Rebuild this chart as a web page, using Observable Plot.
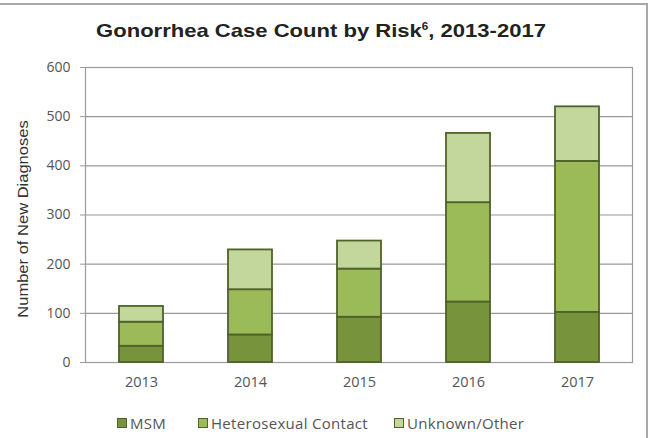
<!DOCTYPE html>
<html>
<head>
<meta charset="utf-8">
<script src="https://cdn.jsdelivr.net/npm/d3@7"></script>
<script src="https://cdn.jsdelivr.net/npm/@observablehq/plot@0.6"></script>
<style>
  body { margin: 0; background: #fff; }
  #wrap { position: relative; width: 655px; height: 438px; overflow: hidden; font-family: "Open Sans", Lato, sans-serif; }
  #frame { position: absolute; left: -4px; top: 3px; width: 650px; height: 450px; border-top: 2px solid #a8a8a8; border-right: 2px solid #a8a8a8; }
  #title { position: absolute; top: 20px; left: 321px; transform: translateX(-50%) scaleX(1.16); white-space: nowrap; font: bold 19px "Liberation Sans", Arial, sans-serif; color: #222; }
  #ylabel { position: absolute; left: 23px; top: 219px; transform: translate(-50%, -50%) rotate(-90deg) scaleX(1.18); white-space: nowrap; font: 14px "Liberation Sans", Arial, sans-serif; color: #333; }
  #chart { position: absolute; top: 55px; left: 0; }
  .leg { position: absolute; top: 413px; font-size: 15px; letter-spacing: 0.3px; color: #555; display: flex; align-items: center; white-space: nowrap; }
  .leg span.sw { display: inline-block; width: 8px; height: 8px; border: 1px solid #4f6228; margin-right: 3px; }
</style>
</head>
<body>
<div id="wrap">
  <div id="frame"></div>
  <div id="title">Gonorrhea Case Count by Risk<sup style="font-size:10px">6</sup>, 2013-2017</div>
  <div id="ylabel">Number of New Diagnoses</div>
  <div id="chart"></div>
  <div id="legend"></div>
</div>
<script>
// Annual gonorrhea diagnoses, split by transmission risk
const years = ["2013", "2014", "2015", "2016", "2017"];
const msm = [33, 56, 92, 123, 102];
const hetero = [49, 92, 98, 202, 307];
const unknown = [32, 81, 57, 141, 111];
const groups = ["MSM", "Heterosexual Contact", "Unknown/Other"];
const colors = ["#77933c", "#9bbb59", "#c3d69b"];
const yTicks = [0, 100, 200, 300, 400, 500, 600];

const rows = [];
years.forEach((yr, i) => {
  rows.push({year: yr, risk: groups[0], n: msm[i]});
  rows.push({year: yr, risk: groups[1], n: hetero[i]});
  rows.push({year: yr, risk: groups[2], n: unknown[i]});
});

const chart = Plot.plot({
  width: 655,
  height: 345,
  marginTop: 12,
  marginBottom: 38,
  marginLeft: 85,
  marginRight: 23,
  style: {fontFamily: "'Open Sans', Lato, sans-serif", fontSize: "14px", color: "#555", background: "transparent"},
  x: {type: "band", domain: years, paddingInner: 0.6, paddingOuter: 0.3, label: null},
  y: {domain: [0, 600], label: null},
  color: {domain: groups, range: colors},
  marks: [
    Plot.gridY(yTicks, {stroke: "#9a9a9a", strokeOpacity: 1, strokeWidth: 1.2}),
    Plot.frame({stroke: "#9a9a9a", strokeWidth: 1.2}),
    Plot.axisY(yTicks, {tickSize: 5, tickPadding: 10, stroke: "#9a9a9a", label: null, fill: "#555"}),
    Plot.axisX({tickSize: 0, tickPadding: 14, label: null, fill: "#555", fontSize: 14.5}),
    Plot.barY(rows, {x: "year", y: "n", fill: "risk", order: groups, stroke: "#4f6228", strokeWidth: 1.8})
  ]
});
document.getElementById("chart").appendChild(chart);

// Legend below the plot
const legPos = [117, 198, 394];
const legend = document.getElementById("legend");
groups.forEach((g, i) => {
  const d = document.createElement("div");
  d.className = "leg";
  d.style.left = legPos[i] + "px";
  d.innerHTML = `<span class="sw" style="background:${colors[i]}"></span>${g}`;
  legend.appendChild(d);
});
</script>
</body>
</html>
